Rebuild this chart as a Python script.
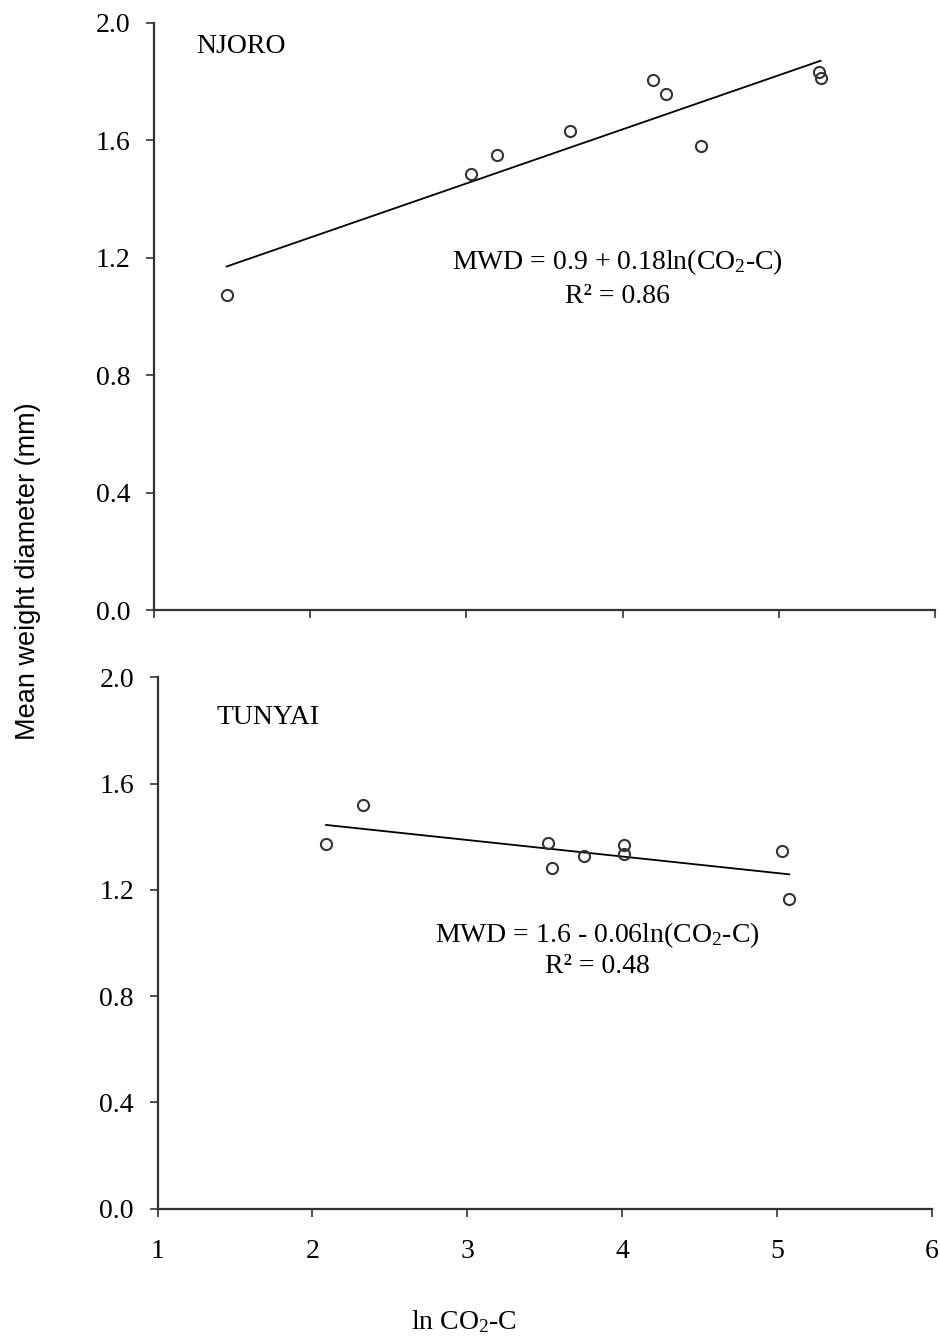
import numpy as np, matplotlib.pyplot as plt

plt.rcParams['font.family'] = ['Liberation Serif', 'DejaVu Serif']
plt.rcParams['mathtext.fontset'] = 'custom'
plt.rcParams['mathtext.rm'] = 'Liberation Serif'
plt.rcParams['mathtext.it'] = 'Liberation Serif'

# NJORO (top)
nj_x = [1.465, 3.029, 3.198, 3.663, 4.197, 4.276, 4.50, 5.257, 5.268]
nj_y = [1.073, 1.484, 1.551, 1.631, 1.805, 1.756, 1.580, 1.831, 1.811]
# TUNYAI (bottom)
tu_x = [2.088, 2.325, 3.522, 3.545, 3.753, 4.014, 4.014, 5.034, 5.079]
tu_y = [1.372, 1.520, 1.378, 1.281, 1.327, 1.367, 1.335, 1.346, 1.165]

yticks = [0.0, 0.4, 0.8, 1.2, 1.6, 2.0]
xticks = [1, 2, 3, 4, 5, 6]

INK = "#333333"
fig = plt.figure(figsize=(9.4, 13.37), dpi=100)
ax1 = fig.add_axes([0.1638, 0.5436, 0.9947 - 0.1638, 0.983 - 0.5436])
ax2 = fig.add_axes([0.1676, 0.0961, 0.9915 - 0.1676, 0.4934 - 0.0961])

def style(ax, labels):
    ax.set_xlim(1, 6); ax.set_ylim(0, 2.0)
    ax.set_xticks(xticks); ax.set_yticks(yticks)
    ax.set_yticklabels([f"{v:.1f}" for v in yticks])
    if labels:
        ax.set_xticklabels([str(v) for v in xticks])
    else:
        ax.set_xticklabels([])
    for s in ("top", "right"):
        ax.spines[s].set_visible(False)
    for s in ("left", "bottom"):
        ax.spines[s].set_color(INK); ax.spines[s].set_linewidth(1.6)
    ax.tick_params(axis="y", direction="out", length=6, width=1.2, color=INK, pad=11, labelsize=20)
    ax.tick_params(axis="x", direction="out", length=6, width=1.2, color=INK, pad=16, labelsize=20)

def panel(ax, x, y, name, nx, ny, eq, r2, ex, ey):
    style(ax, ax is ax2)
    x = np.array(x); y = np.array(y)
    k, b = np.polyfit(x, y, 1)
    xl = np.array([x.min(), x.max()])
    ax.plot(xl, k*xl + b, color="black", lw=1.3, zorder=2)
    ax.plot(x, y, "o", ms=8, mfc="none", mec=INK, mew=1.5, zorder=3)
    ax.text(nx, ny, name, fontsize=20, ha="left", va="center")
    ax.text(ex, ey, eq, fontsize=20, ha="center", va="center")
    ax.text(ex, ey - 0.118, r2, fontsize=20, ha="center", va="center")

panel(ax1, nj_x, nj_y, "NJORO", 1.27, 1.92, "MWD = 0.9 + 0.18ln(CO$_2$-C)", "R² = 0.86", 3.97, 1.185)
panel(ax2, tu_x, tu_y, "TUNYAI", 1.38, 1.85, "MWD = 1.6 - 0.06ln(CO$_2$-C)", "R² = 0.48", 3.84, 1.03)

fig.text(0.030, 0.573, "Mean weight diameter (mm)", rotation=90, ha="center", va="center",
         fontsize=19.5, family=["Liberation Sans", "DejaVu Sans"])
fig.text(0.494, 0.0115, "ln CO$_2$-C", ha="center", va="center", fontsize=20)

fig.savefig("out.png", dpi=100)
